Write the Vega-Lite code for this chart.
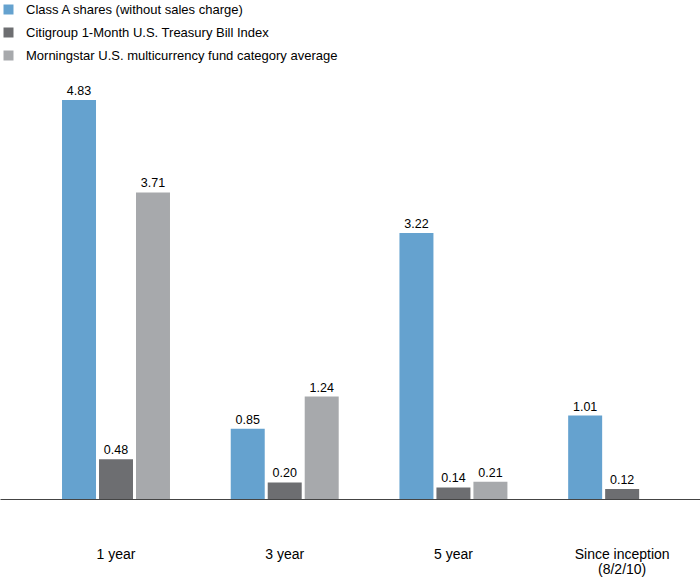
{
  "$schema": "https://vega.github.io/schema/vega-lite/v6.json",
  "width": 700,
  "height": 499,
  "padding": {"left": 0, "top": 0, "right": 0, "bottom": 79},
  "autosize": {"type": "none"},
  "background": "white",
  "config": {"view": {"stroke": null}, "font": "Liberation Sans"},
  "data": {
    "values": [
      {"period": "1 year", "series": "Class A shares (without sales charge)", "value": 4.83, "label": "4.83"},
      {"period": "1 year", "series": "Citigroup 1-Month U.S. Treasury Bill Index", "value": 0.48, "label": "0.48"},
      {"period": "1 year", "series": "Morningstar U.S. multicurrency fund category average", "value": 3.71, "label": "3.71"},
      {"period": "3 year", "series": "Class A shares (without sales charge)", "value": 0.85, "label": "0.85"},
      {"period": "3 year", "series": "Citigroup 1-Month U.S. Treasury Bill Index", "value": 0.20, "label": "0.20"},
      {"period": "3 year", "series": "Morningstar U.S. multicurrency fund category average", "value": 1.24, "label": "1.24"},
      {"period": "5 year", "series": "Class A shares (without sales charge)", "value": 3.22, "label": "3.22"},
      {"period": "5 year", "series": "Citigroup 1-Month U.S. Treasury Bill Index", "value": 0.14, "label": "0.14"},
      {"period": "5 year", "series": "Morningstar U.S. multicurrency fund category average", "value": 0.21, "label": "0.21"},
      {"period": "Since inception|(8/2/10)", "series": "Class A shares (without sales charge)", "value": 1.01, "label": "1.01"},
      {"period": "Since inception|(8/2/10)", "series": "Citigroup 1-Month U.S. Treasury Bill Index", "value": 0.12, "label": "0.12"}
    ]
  },
  "encoding": {
    "x": {
      "field": "period",
      "type": "nominal",
      "sort": null,
      "title": null,
      "scale": {"paddingInner": 0.2, "paddingOuter": 0.1745, "align": 0.824},
      "axis": {
        "labelAngle": 0,
        "labelExpr": "split(datum.label, '|')",
        "labelFontSize": 14,
        "labelLineHeight": 15,
        "labelColor": "#000000",
        "labelPadding": 48,
        "labelBaseline": "top",
        "ticks": false,
        "domainColor": "#444444",
        "domainWidth": 1.2,
        "grid": false
      }
    },
    "xOffset": {
      "field": "series",
      "type": "nominal",
      "sort": null,
      "scale": {
        "domain": ["Class A shares (without sales charge)", "Citigroup 1-Month U.S. Treasury Bill Index", "Morningstar U.S. multicurrency fund category average"],
        "paddingInner": 0.081,
        "paddingOuter": 0.365
      }
    },
    "y": {
      "field": "value",
      "type": "quantitative",
      "scale": {"domain": [0, 6.04], "nice": false},
      "axis": null
    }
  },
  "layer": [
    {
      "mark": {"type": "bar"},
      "encoding": {
        "color": {
          "field": "series",
          "type": "nominal",
          "sort": null,
          "scale": {
            "domain": ["Class A shares (without sales charge)", "Citigroup 1-Month U.S. Treasury Bill Index", "Morningstar U.S. multicurrency fund category average"],
            "range": ["#65a2cf", "#6d6e71", "#a7a9ac"]
          },
          "legend": {
            "title": null,
            "orient": "none",
            "legendX": 2,
            "legendY": 3,
            "symbolType": "square",
            "symbolSize": 100,
            "symbolStrokeWidth": 0,
            "labelFontSize": 13,
            "labelColor": "#000000",
            "labelOffset": 11,
            "rowPadding": 9,
            "labelLimit": 500
          }
        }
      }
    },
    {
      "mark": {"type": "text", "baseline": "bottom", "dy": -2, "fontSize": 12.5, "color": "#000000"},
      "encoding": {"text": {"field": "label"}}
    }
  ]
}
